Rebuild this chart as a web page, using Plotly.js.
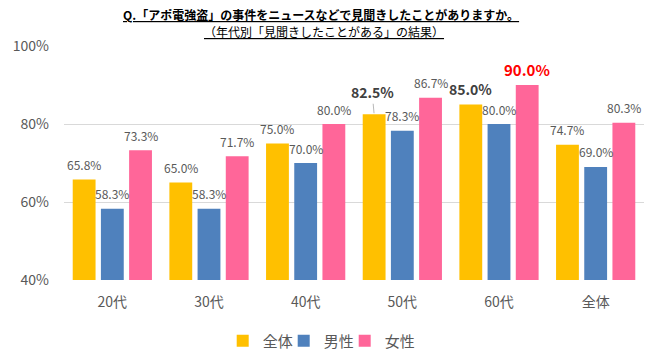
<!DOCTYPE html>
<html><head><meta charset="utf-8">
<script src="https://cdn.plot.ly/plotly-3.0.1.min.js"></script>
<style>body{margin:0;background:#fff}#c{width:659px;height:364px}</style>
</head><body><div id="c"></div>
<script>
const categories = ['20代','30代','40代','50代','60代','全体'];
const seriesNames = ['全体','男性','女性'];
const allValues = [65.8, 65.0, 75.0, 82.5, 85.0, 74.7];
const maleValues = [58.3, 58.3, 70.0, 78.3, 80.0, 69.0];
const femaleValues = [73.3, 71.7, 80.0, 86.7, 90.0, 80.3];
const yTicks = [40, 60, 80, 100];
const titleLine1 = 'Q.「アポ電強盗」の事件をニュースなどで見聞きしたことがありますか。';
const titleLine2 = '（年代別「見聞きしたことがある」の結果）';

const colors = ['#FFC000', '#4F81BD', '#FF6699'];
const legendWidths = [16, 16, 40];
const FONT = '"Noto Sans CJK JP", "Noto Sans", sans-serif';
const series = [allValues, maleValues, femaleValues];

const margin = {l: 64, r: 15, t: 46, b: 84};
const bargap = 0.125, bargroupgap = 0.19;
const plotW = 659 - margin.l - margin.r;
const slot = plotW / categories.length * (1 - bargap) / 3;

const traces = series.map((vals, i) => ({
  type: 'bar', name: seriesNames[i], x: categories, y: vals,
  marker: {color: colors[i]}, hoverinfo: 'skip', legendwidth: legendWidths[i]
}));

const special = {
  '0-3': {size: 14, bold: true, color: '#404040', leader: true},
  '0-4': {size: 14, bold: true, color: '#404040'},
  '2-4': {size: 15, bold: true, color: '#FF0000'}
};

const annotations = [];
series.forEach((vals, s) => {
  vals.forEach((v, c) => {
    const sp = special[s + '-' + c];
    const txt = v.toFixed(1) + '%';
    const a = {
      x: categories[c], y: v, xref: 'x', yref: 'y',
      xshift: (s - 1) * slot,
      text: sp && sp.bold ? '<b>' + txt + '</b>' : txt,
      font: {family: FONT, size: sp ? sp.size : 12, color: sp ? sp.color : '#595959'},
      showarrow: false, yanchor: 'middle', yshift: sp ? 16 : 15
    };
    if (sp && sp.leader) {
      a.showarrow = true; a.arrowhead = 0; a.arrowwidth = 0.8; a.arrowcolor = '#A6A6A6';
      a.ax = -2; a.ay = -22; a.yshift = 0; a.standoff = 1;
    }
    annotations.push(a);
  });
});

annotations.push({
  xref: 'paper', yref: 'paper', x: 0.443, y: 1, yshift: 32, xanchor: 'center', yanchor: 'middle',
  text: '<b><u>' + titleLine1 + '</u></b>', showarrow: false,
  font: {family: FONT, size: 12, color: '#000000'}
});
annotations.push({
  xref: 'paper', yref: 'paper', x: 0.449, y: 1, yshift: 15, xanchor: 'center', yanchor: 'middle',
  text: '<u>' + titleLine2 + '</u>', showarrow: false,
  font: {family: FONT, size: 12, color: '#000000'}
});

const layout = {
  width: 659, height: 364, margin: margin,
  paper_bgcolor: '#ffffff', plot_bgcolor: '#ffffff',
  barmode: 'group', bargap: bargap, bargroupgap: bargroupgap,
  font: {family: FONT, color: '#595959'},
  showlegend: true,
  legend: {orientation: 'h', xref: 'container', x: 0.495, xanchor: 'center',
    yref: 'container', y: 1 - 341 / 364, yanchor: 'middle',
    font: {family: FONT, size: 15, color: '#595959'},
    itemwidth: 30, traceorder: 'normal', tracegroupgap: 0},
  xaxis: {type: 'category', showgrid: false, zeroline: false, showline: false,
    tickfont: {family: FONT, size: 14, color: '#595959'}, ticks: '', ticklabelstandoff: 12},
  yaxis: {range: [40, 100], tickvals: yTicks, ticktext: yTicks.map(v => v + '%'),
    showgrid: true, gridcolor: '#D9D9D9', gridwidth: 1, zeroline: false, showline: false,
    tickfont: {family: FONT, size: 14, color: '#595959'}, ticks: '', ticklabelstandoff: 14},
  annotations: annotations
};

Plotly.newPlot('c', traces, layout, {displayModeBar: false, staticPlot: true});
</script>
</body></html>
